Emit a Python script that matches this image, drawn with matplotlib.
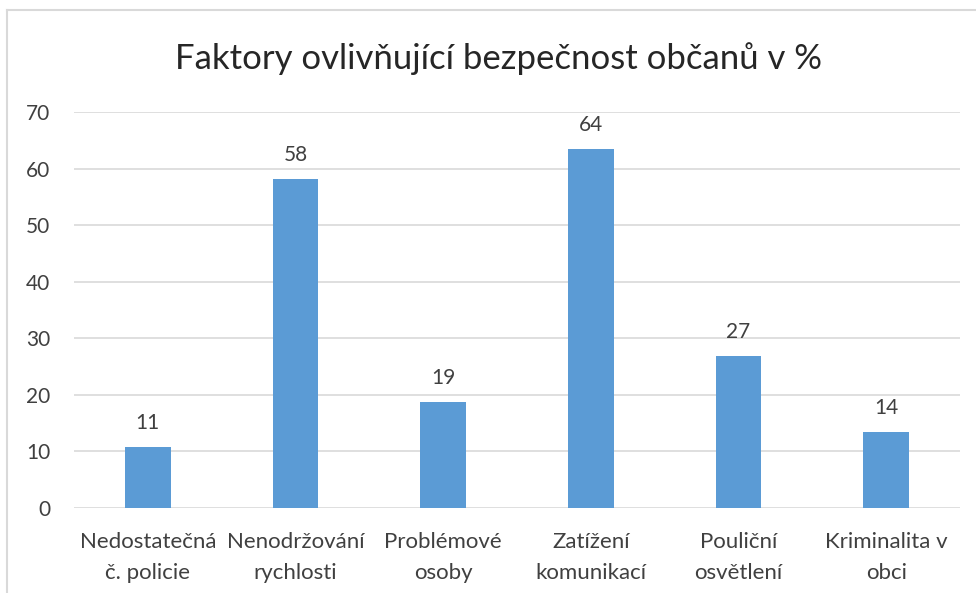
import matplotlib
matplotlib.use('Agg')
import matplotlib.pyplot as plt
from matplotlib.lines import Line2D

# data
categories = ['Nedostatečná\nč. policie', 'Nenodržování\nrychlosti', 'Problémové\nosoby',
              'Zatížení\nkomunikací', 'Pouliční\nosvětlení', 'Kriminalita v\nobci']
values = [10.8, 58.2, 18.8, 63.5, 26.9, 13.5]
value_labels = ['11', '58', '19', '64', '27', '14']
yticks = [0, 10, 20, 30, 40, 50, 60, 70]

plt.rcParams['font.family'] = ['Lato', 'DejaVu Sans']

fig = plt.figure(figsize=(9.76, 5.93), dpi=100)
ax = fig.add_axes([0.0758, 0.1433, 0.9078, 0.6678])

x = range(len(categories))
bars = ax.bar(x, values, width=0.31, color='#5B9BD5', zorder=3)

for b, lab in zip(bars, value_labels):
    ax.annotate(lab, (b.get_x() + b.get_width() / 2, b.get_height()),
                xytext=(0, 10), textcoords='offset points',
                ha='center', va='bottom', fontsize=15, color='#404040')

ax.set_xlim(-0.5, len(categories) - 0.5)
ax.set_ylim(0, 70)
ax.set_yticks(yticks)
ax.set_xticks(list(x))
ax.set_xticklabels(categories, fontsize=16, color='#404040', linespacing=1.7)
ax.tick_params(axis='y', labelsize=15, labelcolor='#404040', length=0, pad=17)
ax.tick_params(axis='x', length=0, pad=17)
ax.grid(axis='y', color='#D9D9D9', linewidth=1.2, zorder=0)
for s in ax.spines.values():
    s.set_visible(False)

fig.text(0.511, 0.902, 'Faktory ovlivňující bezpečnost občanů v %', ha='center', va='center',
         fontsize=25, color='#262626')

# outer chart frame (left and top edges visible)
fig.add_artist(Line2D([0.0072, 0.0072], [0.0, 0.983], transform=fig.transFigure, color='#D9D9D9', lw=1.5))
fig.add_artist(Line2D([0.0072, 1.0], [0.983, 0.983], transform=fig.transFigure, color='#D9D9D9', lw=1.5))

fig.savefig('out.png', dpi=100)
